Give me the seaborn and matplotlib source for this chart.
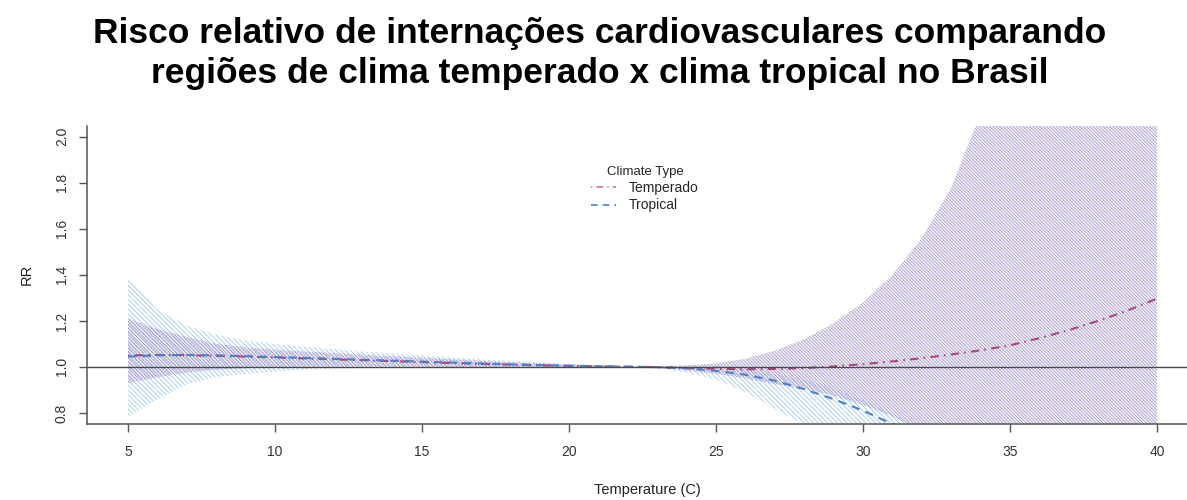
import matplotlib
matplotlib.use("Agg")
import matplotlib.pyplot as plt
from matplotlib.lines import Line2D
import seaborn as sns

# ================= DATA =================
temps = list(range(5, 41))

rr_temperado = [1.050, 1.052, 1.051, 1.048, 1.045, 1.041, 1.037, 1.033, 1.029, 1.025,
                1.021, 1.017, 1.013, 1.010, 1.007, 1.004, 1.002, 1.001, 0.999, 0.995,
                0.992, 0.990, 0.991, 0.995, 1.002, 1.012, 1.024, 1.038, 1.054, 1.072,
                1.094, 1.125, 1.160, 1.200, 1.245, 1.297]
lo_temperado = [0.930, 0.955, 0.975, 0.988, 0.995, 0.999, 1.001, 1.002, 1.002, 1.002,
                1.001, 1.000, 0.999, 0.998, 0.997, 0.997, 0.998, 0.999, 0.996, 0.985,
                0.970, 0.950, 0.925, 0.905, 0.875, 0.835, 0.785, 0.725, 0.660, 0.600,
                0.540, 0.480, 0.430, 0.385, 0.345, 0.305]
hi_temperado = [1.210, 1.165, 1.130, 1.100, 1.085, 1.075, 1.067, 1.060, 1.053, 1.046,
                1.040, 1.034, 1.027, 1.021, 1.016, 1.011, 1.006, 1.003, 1.002, 1.006,
                1.015, 1.035, 1.070, 1.120, 1.190, 1.280, 1.400, 1.560, 1.780, 2.100,
                2.500, 3.000, 3.600, 4.300, 5.200, 6.200]

rr_tropical = [1.045, 1.050, 1.052, 1.050, 1.047, 1.043, 1.039, 1.035, 1.031, 1.027,
               1.023, 1.019, 1.015, 1.011, 1.008, 1.005, 1.003, 1.001, 0.999, 0.994,
               0.983, 0.966, 0.940, 0.903, 0.860, 0.810, 0.752, 0.690, 0.630, 0.570,
               0.520, 0.470, 0.430, 0.390, 0.350, 0.320]
lo_tropical = [0.780, 0.860, 0.925, 0.955, 0.970, 0.980, 0.988, 0.993, 0.997, 0.999,
               1.000, 1.000, 0.999, 0.998, 0.997, 0.997, 0.998, 0.999, 0.994, 0.975,
               0.945, 0.890, 0.820, 0.745, 0.670, 0.590, 0.510, 0.440, 0.380, 0.330,
               0.290, 0.250, 0.220, 0.190, 0.170, 0.150]
hi_tropical = [1.390, 1.250, 1.180, 1.140, 1.115, 1.100, 1.088, 1.077, 1.067, 1.058,
               1.050, 1.042, 1.034, 1.027, 1.020, 1.014, 1.008, 1.003, 1.003, 1.008,
               1.005, 0.995, 0.975, 0.945, 0.905, 0.855, 0.795, 0.735, 0.675, 0.615,
               0.560, 0.510, 0.465, 0.425, 0.385, 0.350]

x_ticks = [5, 10, 15, 20, 25, 30, 35, 40]
y_ticks = [0.8, 1.0, 1.2, 1.4, 1.6, 1.8, 2.0]

title_lines = ["Risco relativo de internações cardiovasculares comparando",
               "regiões de clima temperado x clima tropical no Brasil"]

# ================= STYLE =================
sns.set_style("ticks")
plt.rcParams["font.family"] = ["Liberation Sans", "DejaVu Sans"]
plt.rcParams["hatch.linewidth"] = 0.5

W, H = 1187, 500
fig = plt.figure(figsize=(W / 100, H / 100), dpi=100)
ax = fig.add_axes([87 / W, 1 - 424 / H, 1100 / W, (424 - 125.7) / H])

# ================= CONFIDENCE BANDS =================
ax.fill_between(temps, lo_tropical, hi_tropical, facecolor="none",
                edgecolor="#8cc0ea", hatch="\\" * 7, linewidth=0)
ax.fill_between(temps, lo_temperado, hi_temperado, facecolor="none",
                edgecolor="#f4c6d6", hatch="/" * 10, linewidth=0)
ax.fill_between(temps, lo_temperado, hi_temperado, facecolor="none",
                edgecolor="#8a96d6", hatch="\\" * 10, linewidth=0)

# ================= MEAN CURVES =================
sns.lineplot(x=temps, y=rr_temperado, ax=ax, color="#a8487a", lw=1.5,
             legend=False)
sns.lineplot(x=temps, y=rr_tropical, ax=ax, color="#4f7fc4", lw=1.5,
             legend=False)
ax.lines[0].set_dashes((0.8, 2.5, 4, 2.5))
ax.lines[1].set_dashes((4, 3))

ax.axhline(1.0, color="#4a4a4a", lw=1.0)

# ================= AXES =================
ax.set_xlim(3.605, 41.02)
ax.set_ylim(0.752, 2.048)
ax.set_xticks(x_ticks)
ax.set_yticks(y_ticks)
ax.set_xticklabels([str(t) for t in x_ticks])
ax.set_yticklabels([f"{t:.1f}" for t in y_ticks], rotation=90, va="center")
ax.tick_params(length=6, width=1.0, labelcolor="#333333", labelsize=10,
               color="#555555")
ax.tick_params(axis="x", pad=9)
ax.tick_params(axis="y", pad=7)

for side in ["top", "right"]:
    ax.spines[side].set_visible(False)
for side in ["left", "bottom"]:
    ax.spines[side].set_color("#555555")
    ax.spines[side].set_linewidth(1.1)

ax.set_xlabel("Temperature (C)", fontsize=10.5, color="#222222")
ax.set_ylabel("RR", fontsize=10.5, color="#222222")
ax.xaxis.set_label_coords((647 - 87) / 1100, -66 / 298.3)
ax.yaxis.set_label_coords((27 - 87) / 1100, 0.5)
ax.xaxis.label.set_va("center")
ax.yaxis.label.set_va("center")

# ================= LEGEND =================
handles = [
    Line2D([], [], color="#e07090", lw=1.2, dashes=(0.8, 2.5, 4, 2.5)),
    Line2D([], [], color="#4f7fc4", lw=1.2, dashes=(4, 3)),
]
ax.legend(handles, ["Temperado", "Tropical"], title="Climate Type",
          loc="center", bbox_to_anchor=(645 / W, 1 - 189 / H),
          bbox_transform=fig.transFigure, frameon=False, fontsize=10,
          title_fontsize=9.5, handlelength=1.8, handletextpad=0.9,
          labelspacing=0.25, borderpad=0)

# ================= TITLE =================
fig.text(600 / W, 1 - 43 / H, title_lines[0], ha="center", va="baseline",
         fontsize=25.5, fontweight="bold", color="black")
fig.text(600 / W, 1 - 83 / H, title_lines[1], ha="center", va="baseline",
         fontsize=25.5, fontweight="bold", color="black")

fig.savefig("out.png", dpi=100)
